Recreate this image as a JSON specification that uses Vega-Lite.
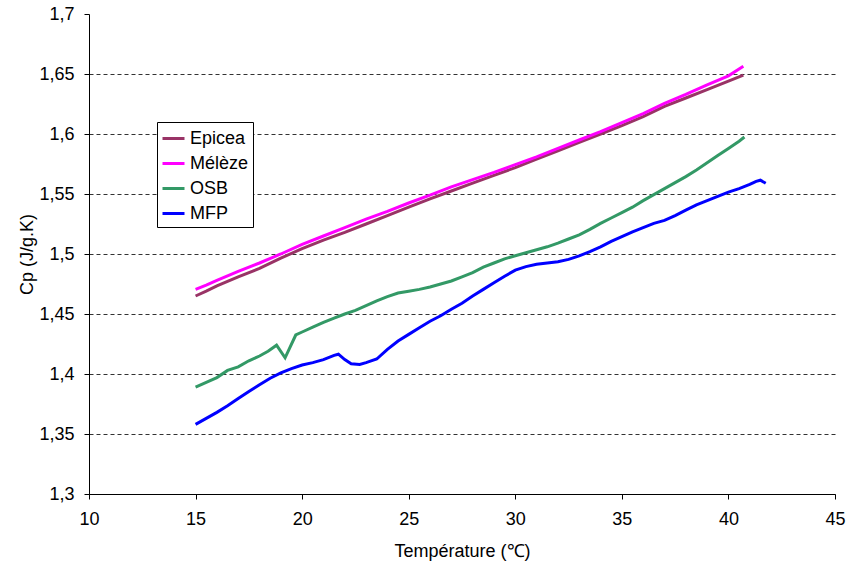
{
  "$schema": "https://vega.github.io/schema/vega-lite/v6.json",
  "autosize": "none",
  "width": 746,
  "height": 480,
  "padding": {"left": 89, "top": 14, "right": 12, "bottom": 74},
  "background": "white",
  "config": {
    "view": {"stroke": null},
    "font": "Liberation Sans",
    "axis": {
      "labelFont": "Liberation Sans",
      "labelFontSize": 18,
      "labelColor": "black",
      "titleFont": "Liberation Sans",
      "titleFontSize": 18,
      "titleFontWeight": "normal",
      "titleColor": "black",
      "domainColor": "black",
      "tickColor": "black",
      "tickSize": 5,
      "labelFlush": false,
      "labelOverlap": false
    }
  },
  "datasets": {
    "cp": [
      {"s": "Epicea", "t": 15, "cp": 1.465},
      {"s": "Epicea", "t": 15.5, "cp": 1.469},
      {"s": "Epicea", "t": 16, "cp": 1.4735},
      {"s": "Epicea", "t": 17, "cp": 1.481},
      {"s": "Epicea", "t": 18, "cp": 1.488},
      {"s": "Epicea", "t": 19, "cp": 1.4965},
      {"s": "Epicea", "t": 20, "cp": 1.5045},
      {"s": "Epicea", "t": 21, "cp": 1.5115},
      {"s": "Epicea", "t": 22, "cp": 1.518},
      {"s": "Epicea", "t": 23, "cp": 1.525},
      {"s": "Epicea", "t": 24, "cp": 1.532},
      {"s": "Epicea", "t": 25, "cp": 1.539},
      {"s": "Epicea", "t": 26, "cp": 1.546},
      {"s": "Epicea", "t": 27, "cp": 1.5525},
      {"s": "Epicea", "t": 28, "cp": 1.559},
      {"s": "Epicea", "t": 29, "cp": 1.5655},
      {"s": "Epicea", "t": 30, "cp": 1.572},
      {"s": "Epicea", "t": 31, "cp": 1.579},
      {"s": "Epicea", "t": 32, "cp": 1.586},
      {"s": "Epicea", "t": 33, "cp": 1.593},
      {"s": "Epicea", "t": 34, "cp": 1.6},
      {"s": "Epicea", "t": 35, "cp": 1.607},
      {"s": "Epicea", "t": 36, "cp": 1.6145},
      {"s": "Epicea", "t": 37, "cp": 1.623},
      {"s": "Epicea", "t": 38, "cp": 1.63},
      {"s": "Epicea", "t": 39, "cp": 1.637},
      {"s": "Epicea", "t": 40, "cp": 1.644},
      {"s": "Epicea", "t": 40.7, "cp": 1.649},
      {"s": "Mélèze", "t": 15, "cp": 1.4705},
      {"s": "Mélèze", "t": 15.5, "cp": 1.474},
      {"s": "Mélèze", "t": 16, "cp": 1.478},
      {"s": "Mélèze", "t": 17, "cp": 1.4855},
      {"s": "Mélèze", "t": 18, "cp": 1.4925},
      {"s": "Mélèze", "t": 19, "cp": 1.5},
      {"s": "Mélèze", "t": 20, "cp": 1.508},
      {"s": "Mélèze", "t": 21, "cp": 1.515},
      {"s": "Mélèze", "t": 22, "cp": 1.522},
      {"s": "Mélèze", "t": 23, "cp": 1.529},
      {"s": "Mélèze", "t": 24, "cp": 1.5355},
      {"s": "Mélèze", "t": 25, "cp": 1.5425},
      {"s": "Mélèze", "t": 26, "cp": 1.549},
      {"s": "Mélèze", "t": 27, "cp": 1.556},
      {"s": "Mélèze", "t": 28, "cp": 1.562},
      {"s": "Mélèze", "t": 29, "cp": 1.568},
      {"s": "Mélèze", "t": 30, "cp": 1.5745},
      {"s": "Mélèze", "t": 31, "cp": 1.581},
      {"s": "Mélèze", "t": 32, "cp": 1.588},
      {"s": "Mélèze", "t": 33, "cp": 1.595},
      {"s": "Mélèze", "t": 34, "cp": 1.602},
      {"s": "Mélèze", "t": 35, "cp": 1.6095},
      {"s": "Mélèze", "t": 36, "cp": 1.617},
      {"s": "Mélèze", "t": 37, "cp": 1.6255},
      {"s": "Mélèze", "t": 38, "cp": 1.633},
      {"s": "Mélèze", "t": 39, "cp": 1.641},
      {"s": "Mélèze", "t": 40, "cp": 1.6485},
      {"s": "Mélèze", "t": 40.7, "cp": 1.6565},
      {"s": "OSB", "t": 15, "cp": 1.389},
      {"s": "OSB", "t": 15.5, "cp": 1.393},
      {"s": "OSB", "t": 16, "cp": 1.397},
      {"s": "OSB", "t": 16.5, "cp": 1.403},
      {"s": "OSB", "t": 17, "cp": 1.406},
      {"s": "OSB", "t": 17.5, "cp": 1.411},
      {"s": "OSB", "t": 18, "cp": 1.415},
      {"s": "OSB", "t": 18.4, "cp": 1.419},
      {"s": "OSB", "t": 18.8, "cp": 1.424},
      {"s": "OSB", "t": 19.2, "cp": 1.4135},
      {"s": "OSB", "t": 19.7, "cp": 1.4325},
      {"s": "OSB", "t": 20, "cp": 1.435},
      {"s": "OSB", "t": 20.5, "cp": 1.439},
      {"s": "OSB", "t": 21, "cp": 1.443},
      {"s": "OSB", "t": 21.5, "cp": 1.4465},
      {"s": "OSB", "t": 22, "cp": 1.45},
      {"s": "OSB", "t": 22.5, "cp": 1.453},
      {"s": "OSB", "t": 23, "cp": 1.457},
      {"s": "OSB", "t": 23.5, "cp": 1.461},
      {"s": "OSB", "t": 24, "cp": 1.4645},
      {"s": "OSB", "t": 24.5, "cp": 1.4675},
      {"s": "OSB", "t": 25, "cp": 1.469},
      {"s": "OSB", "t": 25.5, "cp": 1.4705},
      {"s": "OSB", "t": 26, "cp": 1.4725},
      {"s": "OSB", "t": 26.5, "cp": 1.475},
      {"s": "OSB", "t": 27, "cp": 1.4775},
      {"s": "OSB", "t": 27.5, "cp": 1.481},
      {"s": "OSB", "t": 28, "cp": 1.4845},
      {"s": "OSB", "t": 28.5, "cp": 1.489},
      {"s": "OSB", "t": 29, "cp": 1.4925},
      {"s": "OSB", "t": 29.5, "cp": 1.496},
      {"s": "OSB", "t": 30, "cp": 1.4985},
      {"s": "OSB", "t": 30.5, "cp": 1.501},
      {"s": "OSB", "t": 31, "cp": 1.5035},
      {"s": "OSB", "t": 31.5, "cp": 1.506},
      {"s": "OSB", "t": 32, "cp": 1.509},
      {"s": "OSB", "t": 32.5, "cp": 1.5125},
      {"s": "OSB", "t": 33, "cp": 1.516},
      {"s": "OSB", "t": 33.5, "cp": 1.5205},
      {"s": "OSB", "t": 34, "cp": 1.5255},
      {"s": "OSB", "t": 34.5, "cp": 1.53},
      {"s": "OSB", "t": 35, "cp": 1.5345},
      {"s": "OSB", "t": 35.5, "cp": 1.539},
      {"s": "OSB", "t": 36, "cp": 1.5445},
      {"s": "OSB", "t": 36.5, "cp": 1.5495},
      {"s": "OSB", "t": 37, "cp": 1.5545},
      {"s": "OSB", "t": 37.5, "cp": 1.5595},
      {"s": "OSB", "t": 38, "cp": 1.5645},
      {"s": "OSB", "t": 38.5, "cp": 1.57},
      {"s": "OSB", "t": 39, "cp": 1.576},
      {"s": "OSB", "t": 39.5, "cp": 1.582},
      {"s": "OSB", "t": 40, "cp": 1.588},
      {"s": "OSB", "t": 40.5, "cp": 1.594},
      {"s": "OSB", "t": 40.75, "cp": 1.5975},
      {"s": "MFP", "t": 15, "cp": 1.358},
      {"s": "MFP", "t": 15.5, "cp": 1.363},
      {"s": "MFP", "t": 16, "cp": 1.368},
      {"s": "MFP", "t": 16.5, "cp": 1.3735},
      {"s": "MFP", "t": 17, "cp": 1.3795},
      {"s": "MFP", "t": 17.5, "cp": 1.3855},
      {"s": "MFP", "t": 18, "cp": 1.391},
      {"s": "MFP", "t": 18.5, "cp": 1.3965},
      {"s": "MFP", "t": 19, "cp": 1.401},
      {"s": "MFP", "t": 19.5, "cp": 1.4045},
      {"s": "MFP", "t": 20, "cp": 1.4075},
      {"s": "MFP", "t": 20.5, "cp": 1.4095},
      {"s": "MFP", "t": 21, "cp": 1.412},
      {"s": "MFP", "t": 21.5, "cp": 1.4155},
      {"s": "MFP", "t": 21.7, "cp": 1.4165},
      {"s": "MFP", "t": 22, "cp": 1.412},
      {"s": "MFP", "t": 22.3, "cp": 1.4085},
      {"s": "MFP", "t": 22.7, "cp": 1.408},
      {"s": "MFP", "t": 23, "cp": 1.4095},
      {"s": "MFP", "t": 23.5, "cp": 1.4125},
      {"s": "MFP", "t": 24, "cp": 1.4205},
      {"s": "MFP", "t": 24.5, "cp": 1.4275},
      {"s": "MFP", "t": 25, "cp": 1.433},
      {"s": "MFP", "t": 25.5, "cp": 1.4385},
      {"s": "MFP", "t": 26, "cp": 1.444},
      {"s": "MFP", "t": 26.5, "cp": 1.4485},
      {"s": "MFP", "t": 27, "cp": 1.454},
      {"s": "MFP", "t": 27.5, "cp": 1.459},
      {"s": "MFP", "t": 28, "cp": 1.465},
      {"s": "MFP", "t": 28.5, "cp": 1.4705},
      {"s": "MFP", "t": 29, "cp": 1.476},
      {"s": "MFP", "t": 29.5, "cp": 1.4815},
      {"s": "MFP", "t": 30, "cp": 1.4865},
      {"s": "MFP", "t": 30.5, "cp": 1.4895},
      {"s": "MFP", "t": 31, "cp": 1.4915},
      {"s": "MFP", "t": 31.5, "cp": 1.4925},
      {"s": "MFP", "t": 32, "cp": 1.4935},
      {"s": "MFP", "t": 32.5, "cp": 1.4955},
      {"s": "MFP", "t": 33, "cp": 1.4985},
      {"s": "MFP", "t": 33.5, "cp": 1.502},
      {"s": "MFP", "t": 34, "cp": 1.506},
      {"s": "MFP", "t": 34.5, "cp": 1.5105},
      {"s": "MFP", "t": 35, "cp": 1.5145},
      {"s": "MFP", "t": 35.5, "cp": 1.5185},
      {"s": "MFP", "t": 36, "cp": 1.522},
      {"s": "MFP", "t": 36.5, "cp": 1.5255},
      {"s": "MFP", "t": 37, "cp": 1.528},
      {"s": "MFP", "t": 37.5, "cp": 1.532},
      {"s": "MFP", "t": 38, "cp": 1.5365},
      {"s": "MFP", "t": 38.5, "cp": 1.541},
      {"s": "MFP", "t": 39, "cp": 1.5445},
      {"s": "MFP", "t": 39.5, "cp": 1.548},
      {"s": "MFP", "t": 40, "cp": 1.5515},
      {"s": "MFP", "t": 40.5, "cp": 1.5545},
      {"s": "MFP", "t": 41, "cp": 1.558},
      {"s": "MFP", "t": 41.3, "cp": 1.5605},
      {"s": "MFP", "t": 41.5, "cp": 1.5615},
      {"s": "MFP", "t": 41.75, "cp": 1.559}
    ]
  },
  "data": {"name": "cp"},
  "mark": {"type": "line", "strokeWidth": 3, "clip": true},
  "encoding": {
    "x": {
      "field": "t",
      "type": "quantitative",
      "scale": {"domain": [10, 45], "nice": false, "zero": false},
      "axis": {
        "values": [10, 15, 20, 25, 30, 35, 40, 45],
        "title": "Température (℃)",
        "grid": false,
        "labelPadding": 11,
        "titlePadding": 14
      }
    },
    "y": {
      "field": "cp",
      "type": "quantitative",
      "scale": {"domain": [1.3, 1.7], "nice": false, "zero": false},
      "axis": {
        "values": [1.3, 1.35, 1.4, 1.45, 1.5, 1.55, 1.6, 1.65, 1.7],
        "labelExpr": "replace(format(datum.value, '.2~f'), '.', ',')",
        "title": "Cp (J/g.K)",
        "grid": true,
        "gridDash": [4, 3],
        "gridColor": "#333333",
        "gridOpacity": {"condition": {"test": "datum.value > 1.69", "value": 0}, "value": 1},
        "labelPadding": 10,
        "titlePadding": 2
      }
    },
    "color": {
      "field": "s",
      "type": "nominal",
      "sort": ["Epicea", "Mélèze", "OSB", "MFP"],
      "scale": {
        "domain": ["Epicea", "Mélèze", "OSB", "MFP"],
        "range": ["#993366", "#FF00FF", "#339966", "#0000FF"]
      },
      "legend": {
        "title": null,
        "orient": "none",
        "legendX": 68,
        "legendY": 108,
        "strokeColor": "black",
        "fillColor": "white",
        "padding": 4,
        "symbolType": "stroke",
        "symbolSize": 484,
        "symbolStrokeWidth": 3,
        "labelFont": "Liberation Sans",
        "labelFontSize": 18,
        "labelColor": "black",
        "labelOffset": 4,
        "rowPadding": 3
      }
    }
  }
}
